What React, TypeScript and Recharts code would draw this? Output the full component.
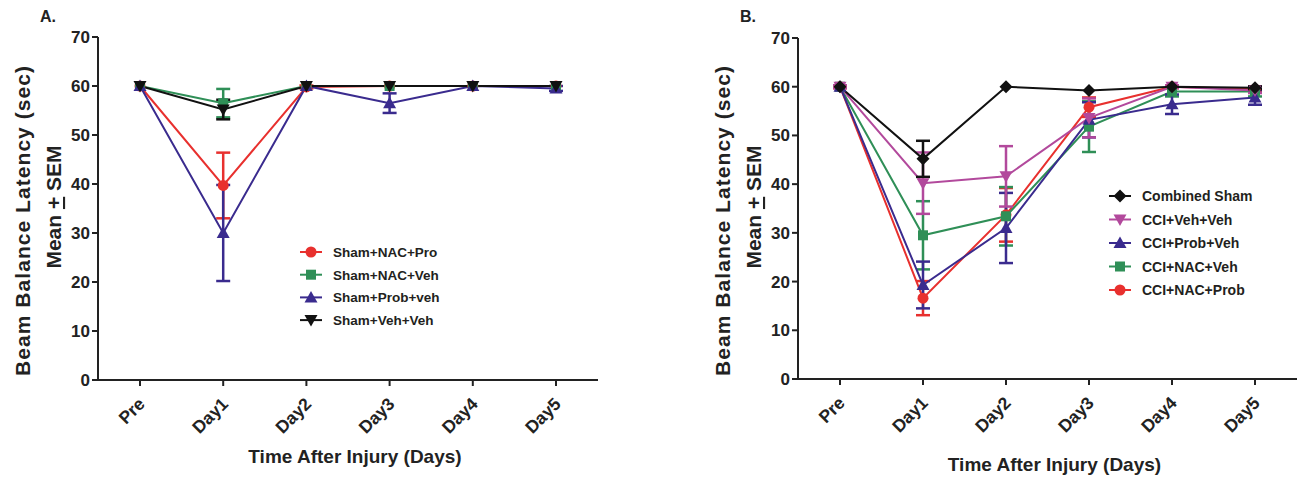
import React from 'react';
import { LineChart, Line, XAxis, YAxis, ErrorBar, Legend } from 'recharts';

const FONT = '"Liberation Sans", Arial, sans-serif';

const days = ['Pre', 'Day1', 'Day2', 'Day3', 'Day4', 'Day5'];
const yTicks = [0, 10, 20, 30, 40, 50, 60, 70];

// Panel A - sham groups (mean, SEM)
const shamNacPro = [60, 39.7, 59.8, 60, 60, 60];
const shamNacProSem = [0, 6.7, 0.3, 0, 0, 0];
const shamNacVeh = [60, 56.5, 60, 60, 60, 60];
const shamNacVehSem = [0, 2.9, 0, 0, 0, 0];
const shamProbVeh = [60, 30, 60, 56.5, 60, 59.5];
const shamProbVehSem = [0, 9.8, 0, 2, 0, 0.5];
const shamVehVeh = [60, 55.2, 60, 60, 60, 60];
const shamVehVehSem = [0, 2, 0, 0, 0, 0];

// Panel B - CCI groups (mean, SEM)
const combinedSham = [60, 45.2, 60, 59.2, 60, 59.8];
const combinedShamSem = [0, 3.7, 0, 0, 0, 0.3];
const cciVehVeh = [60, 40.2, 41.6, 53.6, 60, 59.2];
const cciVehVehSem = [0.3, 6.3, 6.2, 4, 0.3, 0.5];
const cciProbVeh = [60, 19.3, 31, 53.2, 56.4, 57.8];
const cciProbVehSem = [0, 4.8, 7.2, 3.6, 2, 1.5];
const cciNacVeh = [60, 29.5, 33.4, 51.8, 59, 59];
const cciNacVehSem = [0, 7, 6, 5.2, 1, 1];
const cciNacProb = [60, 16.6, 33.7, 55.8, 60, 59.5];
const cciNacProbSem = [0.3, 3.5, 5.5, 2, 0.3, 0.3];

const RED = '#e8302e';
const GREEN = '#2f8f57';
const PURPLE = '#3a2b8e';
const MAGENTA = '#b2499c';
const BLACK = '#111111';

type Shape = 'circle' | 'square' | 'up' | 'down' | 'diamond';

interface Series {
  key: string;
  name: string;
  mean: number[];
  sem: number[];
  color: string;
  shape: Shape;
}

// legend order
const seriesA: Series[] = [
  { key: 'a1', name: 'Sham+NAC+Pro', mean: shamNacPro, sem: shamNacProSem, color: RED, shape: 'circle' },
  { key: 'a2', name: 'Sham+NAC+Veh', mean: shamNacVeh, sem: shamNacVehSem, color: GREEN, shape: 'square' },
  { key: 'a3', name: 'Sham+Prob+veh', mean: shamProbVeh, sem: shamProbVehSem, color: PURPLE, shape: 'up' },
  { key: 'a4', name: 'Sham+Veh+Veh', mean: shamVehVeh, sem: shamVehVehSem, color: BLACK, shape: 'down' },
];

const seriesB: Series[] = [
  { key: 'b1', name: 'Combined Sham', mean: combinedSham, sem: combinedShamSem, color: BLACK, shape: 'diamond' },
  { key: 'b2', name: 'CCI+Veh+Veh', mean: cciVehVeh, sem: cciVehVehSem, color: MAGENTA, shape: 'down' },
  { key: 'b3', name: 'CCI+Prob+Veh', mean: cciProbVeh, sem: cciProbVehSem, color: PURPLE, shape: 'up' },
  { key: 'b4', name: 'CCI+NAC+Veh', mean: cciNacVeh, sem: cciNacVehSem, color: GREEN, shape: 'square' },
  { key: 'b5', name: 'CCI+NAC+Prob', mean: cciNacProb, sem: cciNacProbSem, color: RED, shape: 'circle' },
];

function buildRows(series: Series[]) {
  return days.map((d, i) => {
    const row: Record<string, any> = { day: d };
    series.forEach((s) => {
      row[s.key] = s.mean[i];
      row[s.key + '_e'] = s.sem[i];
    });
    return row;
  });
}

const dataA = buildRows(seriesA);
const dataB = buildRows(seriesB);

function Marker({ shape, cx, cy, color }: { shape: Shape; cx: number; cy: number; color: string }) {
  if (cx == null || cy == null) return null;
  switch (shape) {
    case 'circle':
      return <circle cx={cx} cy={cy} r={5.5} fill={color} />;
    case 'square':
      return <rect x={cx - 5} y={cy - 5} width={10} height={10} fill={color} />;
    case 'up':
      return <polygon points={`${cx},${cy - 6.5} ${cx + 6.5},${cy + 5} ${cx - 6.5},${cy + 5}`} fill={color} />;
    case 'down':
      return <polygon points={`${cx},${cy + 6.5} ${cx + 6.5},${cy - 5} ${cx - 6.5},${cy - 5}`} fill={color} />;
    default:
      return <polygon points={`${cx},${cy - 6.5} ${cx + 6.5},${cy} ${cx},${cy + 6.5} ${cx - 6.5},${cy}`} fill={color} />;
  }
}

const XTick = (props: any) => {
  const { x, y, payload } = props;
  return (
    <g transform={`translate(${x + 6},${y + 17})`}>
      <text transform="rotate(-45)" textAnchor="end" fontFamily={FONT} fontWeight="bold" fontSize={17.5} fill="#222">
        {payload.value}
      </text>
    </g>
  );
};

function LegendBox({ series, rowGap, fontSize }: { series: Series[]; rowGap: number; fontSize: number }) {
  return (
    <svg width={200} height={series.length * rowGap + 10}>
      {series.map((s, i) => {
        const cy = 8 + i * rowGap;
        return (
          <g key={s.key}>
            <line x1={0} x2={22} y1={cy} y2={cy} stroke={s.color} strokeWidth={2} />
            <Marker shape={s.shape} cx={11} cy={cy} color={s.color} />
            <text x={33} y={cy + 5} fontFamily={FONT} fontWeight="bold" fontSize={fontSize} fill="#231f20">
              {s.name}
            </text>
          </g>
        );
      })}
    </svg>
  );
}

function Panel({
  letter, data, series, drawOrder, width, top, bottom, xTitleY, legendLeft, legendTop, legendGap, legendFont,
}: {
  letter: string; data: any[]; series: Series[]; drawOrder: Series[]; width: number; top: number; bottom: number;
  xTitleY: number; legendLeft: number; legendTop: number; legendGap: number; legendFont: number;
}) {
  return (
    <LineChart width={width} height={477} data={data} margin={{ top, right: 0, bottom: 0, left: 0 }}>
      <XAxis
        dataKey="day"
        stroke="#222"
        strokeWidth={2}
        tickSize={6}
        tickLine={{ stroke: '#222', strokeWidth: 2 }}
        tick={<XTick />}
        interval={0}
        height={bottom}
        padding={{ left: 42, right: 42 }}
        label={{
          content: () => (
            <text x={(98 + width) / 2 + 7} y={xTitleY} textAnchor="middle" fontFamily={FONT} fontWeight="bold" fontSize={19} fill="#222">
              Time After Injury (Days)
            </text>
          ),
        }}
      />
      <YAxis
        type="number"
        domain={[0, 70]}
        ticks={yTicks}
        width={98}
        stroke="#222"
        strokeWidth={2}
        tickSize={6}
        tickMargin={2}
        tickLine={{ stroke: '#222', strokeWidth: 2 }}
        tick={{ fontFamily: FONT, fontWeight: 'bold', fontSize: 17, fill: '#222' }}
        label={{
          content: () => (
            <g>
              <text x={40} y={22} fontFamily={FONT} fontWeight="bold" fontSize={16} fill="#222">{letter}</text>
              <text transform="translate(30,221) rotate(-90)" textAnchor="middle" fontFamily={FONT} fontWeight="bold" fontSize={21} fill="#222" textLength={310} lengthAdjust="spacing">
                Beam Balance Latency (sec)
              </text>
              <text transform="translate(61,207) rotate(-90)" textAnchor="middle" fontFamily={FONT} fontWeight="bold" fontSize={21} fill="#222">
                Mean <tspan textDecoration="underline">+</tspan> SEM
              </text>
            </g>
          ),
        }}
      />
      {drawOrder.map((s) => (
        <Line
          key={s.key}
          dataKey={s.key}
          name={s.name}
          stroke={s.color}
          strokeWidth={2}
          isAnimationActive={false}
          dot={(p: any) => <Marker key={`${s.key}-${p.index}`} shape={s.shape} cx={p.cx} cy={p.cy} color={s.color} />}
          activeDot={false}
        >
          <ErrorBar dataKey={s.key + '_e'} width={7} strokeWidth={2.5} stroke={s.color} direction="y" isAnimationActive={false} />
        </Line>
      ))}
      <Legend
        layout="vertical"
        align="center"
        verticalAlign="middle"
        wrapperStyle={{ position: 'absolute', left: legendLeft, top: legendTop, width: 200 }}
        content={() => <LegendBox series={series} rowGap={legendGap} fontSize={legendFont} />}
      />
    </LineChart>
  );
}

export default function App() {
  return (
    <div style={{ position: 'absolute', left: 0, top: 0, width: 1297, height: 477, background: '#fff' }}>
      <div style={{ position: 'absolute', left: 0, top: 0 }}>
        <Panel
          letter="A."
          data={dataA}
          series={seriesA}
          drawOrder={seriesA}
          width={598}
          top={37}
          bottom={97}
          xTitleY={463}
          legendLeft={300}
          legendTop={244}
          legendGap={22.7}
          legendFont={13.5}
        />
      </div>
      <div style={{ position: 'absolute', left: 700, top: 0 }}>
        <Panel
          letter="B."
          data={dataB}
          series={seriesB}
          drawOrder={[...seriesB].reverse()}
          width={597}
          top={38}
          bottom={98}
          xTitleY={471}
          legendLeft={409}
          legendTop={188}
          legendGap={23.5}
          legendFont={14}
        />
      </div>
    </div>
  );
}
